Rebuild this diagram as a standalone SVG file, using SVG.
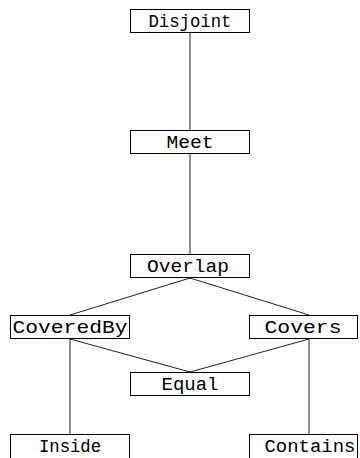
<svg xmlns="http://www.w3.org/2000/svg" width="360" height="458" viewBox="0 0 360 458">
<style>
.box{fill:#fff;stroke:#000;stroke-width:1}
.lbl{font-family:"Liberation Mono",monospace;font-size:18px;fill:#000;text-anchor:middle}
.edge{stroke:#222;stroke-width:1;fill:none}
</style>
<rect width="360" height="458" fill="#fff"/>
<g id="connectors">
<line class="edge" x1="190" y1="33" x2="190" y2="130"/>
<line class="edge" x1="190" y1="154" x2="190" y2="254"/>
<line class="edge" x1="190" y1="278" x2="70" y2="315"/>
<line class="edge" x1="190" y1="278" x2="309" y2="315"/>
<line class="edge" x1="70" y1="339" x2="190" y2="372"/>
<line class="edge" x1="309" y1="339" x2="190" y2="372"/>
<line class="edge" x1="70" y1="339" x2="70" y2="434"/>
<line class="edge" x1="309" y1="339" x2="309" y2="434"/>
</g>
<g id="disjoint"><rect class="box" x="130.5" y="9.5" width="119" height="23"/><text class="lbl" x="190" y="27" textLength="83" lengthAdjust="spacingAndGlyphs">Disjoint</text></g>
<g id="meet"><rect class="box" x="130.5" y="130.5" width="119" height="23"/><text class="lbl" x="190" y="148" textLength="47" lengthAdjust="spacingAndGlyphs">Meet</text></g>
<g id="overlap"><rect class="box" x="130.5" y="254.5" width="119" height="23"/><text class="lbl" x="188" y="272" textLength="82" lengthAdjust="spacingAndGlyphs">Overlap</text></g>
<g id="coveredby"><rect class="box" x="10.5" y="315.5" width="119" height="23"/><text class="lbl" x="70" y="333" textLength="115" lengthAdjust="spacingAndGlyphs">CoveredBy</text></g>
<g id="covers"><rect class="box" x="249.5" y="315.5" width="108" height="23"/><text class="lbl" x="303" y="333" textLength="77" lengthAdjust="spacingAndGlyphs">Covers</text></g>
<g id="equal"><rect class="box" x="130.5" y="372.5" width="119" height="23"/><text class="lbl" x="190" y="390" textLength="57" lengthAdjust="spacingAndGlyphs">Equal</text></g>
<g id="inside"><rect class="box" x="10.5" y="434.5" width="119" height="30"/><text class="lbl" x="70" y="452" textLength="62" lengthAdjust="spacingAndGlyphs">Inside</text></g>
<g id="contains"><rect class="box" x="249.5" y="434.5" width="108" height="30"/><text class="lbl" x="310" y="452" textLength="91" lengthAdjust="spacingAndGlyphs">Contains</text></g>
</svg>
